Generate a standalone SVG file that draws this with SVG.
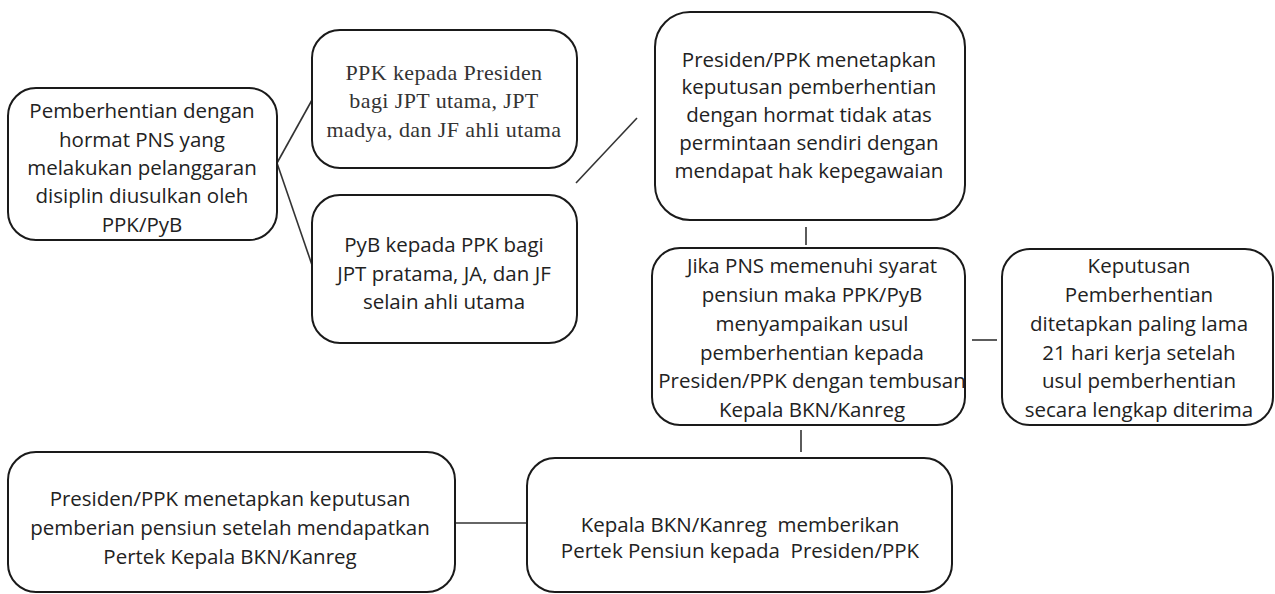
<svg xmlns="http://www.w3.org/2000/svg" width="1275" height="594" viewBox="0 0 1275 594">
<style>
.box{fill:#fff;stroke:#1a1a1a;stroke-width:2}
.con line{stroke:#333;stroke-width:1.6}
.t{font-family:"Open Sans","DejaVu Sans",sans-serif;font-size:20.5px;fill:#222;text-anchor:middle}
.s{font-family:"Liberation Serif","Times New Roman",serif;font-size:22px;fill:#333;text-anchor:middle;letter-spacing:0.4px}
</style>
<rect width="1275" height="594" fill="#fff"/>
<g id="connectors" class="con">
<line x1="277" y1="163" x2="312" y2="100"/>
<line x1="277" y1="163" x2="312" y2="265"/>
<line x1="576" y1="183" x2="637" y2="118"/>
<line x1="806" y1="227" x2="806" y2="245"/>
<line x1="972" y1="340" x2="997" y2="340"/>
<line x1="801" y1="430" x2="801" y2="452"/>
<line x1="455" y1="523" x2="527" y2="523"/>
</g>
<g id="nodeA">
<rect class="box" x="8" y="88" width="269" height="152" rx="28"/>
<text class="t"><tspan x="142" y="118">Pemberhentian dengan</tspan><tspan x="142" y="147">hormat PNS yang</tspan><tspan x="142" y="175">melakukan pelanggaran</tspan><tspan x="142" y="203">disiplin diusulkan oleh</tspan><tspan x="142" y="232">PPK/PyB</tspan></text>
</g>
<g id="nodeB">
<rect class="box" x="312" y="30" width="265" height="138" rx="28"/>
<text class="s"><tspan x="444" y="80">PPK kepada Presiden</tspan><tspan x="444" y="108">bagi JPT utama, JPT</tspan><tspan x="444" y="137">madya, dan JF ahli utama</tspan></text>
</g>
<g id="nodeC">
<rect class="box" x="312" y="195" width="265" height="148" rx="28"/>
<text class="t"><tspan x="444" y="252">PyB kepada  PPK bagi</tspan><tspan x="444" y="281">JPT pratama, JA, dan JF</tspan><tspan x="444" y="309">selain ahli utama</tspan></text>
</g>
<g id="nodeD">
<rect class="box" x="655" y="12" width="310" height="208" rx="35"/>
<text class="t"><tspan x="809" y="67">Presiden/PPK menetapkan</tspan><tspan x="809" y="94">keputusan pemberhentian</tspan><tspan x="809" y="122">dengan hormat tidak atas</tspan><tspan x="809" y="150">permintaan sendiri dengan</tspan><tspan x="809" y="178">mendapat hak kepegawaian</tspan></text>
</g>
<g id="nodeE">
<rect class="box" x="652" y="248" width="313" height="177" rx="28"/>
<text class="t"><tspan x="812" y="273">Jika PNS memenuhi syarat</tspan><tspan x="812" y="302">pensiun maka PPK/PyB</tspan><tspan x="812" y="331">menyampaikan usul</tspan><tspan x="812" y="360">pemberhentian kepada</tspan><tspan x="812" y="388">Presiden/PPK dengan tembusan</tspan><tspan x="812" y="417">Kepala BKN/Kanreg</tspan></text>
</g>
<g id="nodeF">
<rect class="box" x="1002" y="249" width="271" height="176" rx="28"/>
<text class="t"><tspan x="1139" y="273">Keputusan</tspan><tspan x="1139" y="302">Pemberhentian</tspan><tspan x="1139" y="331">ditetapkan paling lama</tspan><tspan x="1139" y="360">21 hari kerja setelah</tspan><tspan x="1139" y="388">usul pemberhentian</tspan><tspan x="1139" y="417">secara lengkap diterima</tspan></text>
</g>
<g id="nodeG">
<rect class="box" x="527" y="458" width="425" height="134" rx="28"/>
<text class="t" style="white-space:pre"><tspan x="740" y="532">Kepala BKN/Kanreg  memberikan</tspan><tspan x="740" y="558">Pertek Pensiun kepada  Presiden/PPK</tspan></text>
</g>
<g id="nodeH">
<rect class="box" x="8" y="452" width="447" height="140" rx="28"/>
<text class="t"><tspan x="230" y="506">Presiden/PPK menetapkan keputusan</tspan><tspan x="230" y="535">pemberian pensiun setelah mendapatkan</tspan><tspan x="230" y="564">Pertek Kepala BKN/Kanreg</tspan></text>
</g>
</svg>
